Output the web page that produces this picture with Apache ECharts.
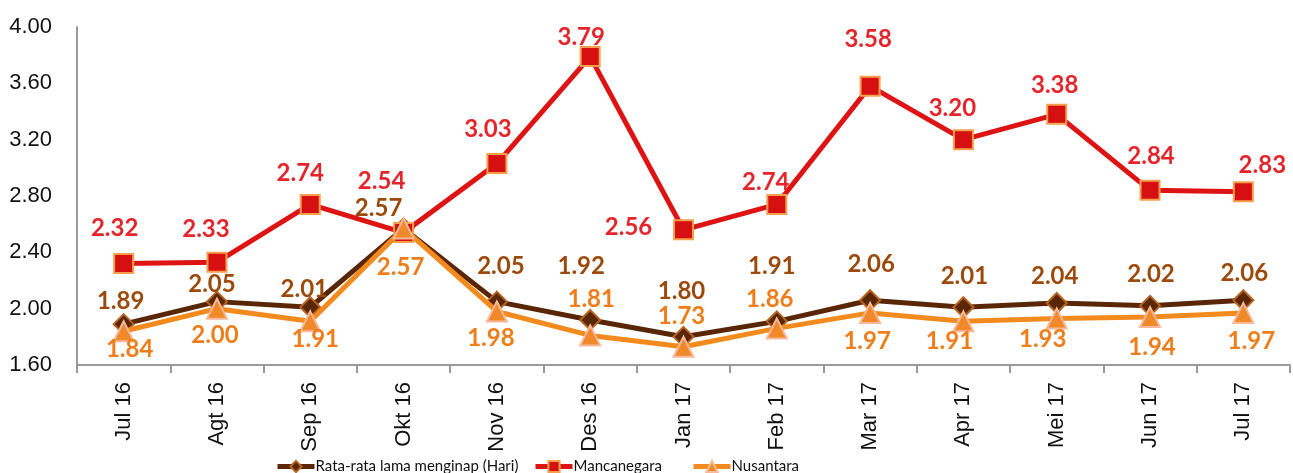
<!DOCTYPE html>
<html><head><meta charset="utf-8">
<script src="https://cdn.jsdelivr.net/npm/echarts@6/dist/echarts.min.js"></script>
<style>html,body{margin:0;padding:0;background:#fff}#c{width:1293px;height:473px}</style>
</head><body><div id="c"></div>
<script>
const categories = ['Jul 16','Agt 16','Sep 16','Okt 16','Nov 16','Des 16','Jan 17','Feb 17','Mar 17','Apr 17','Mei 17','Jun 17','Jul 17'];
const rataValues = [1.89,2.05,2.01,2.57,2.05,1.92,1.80,1.91,2.06,2.01,2.04,2.02,2.06];
const mancValues = [2.32,2.33,2.74,2.54,3.03,3.79,2.56,2.74,3.58,3.20,3.38,2.84,2.83];
const nusValues  = [1.84,2.00,1.91,2.57,1.98,1.81,1.73,1.86,1.97,1.91,1.93,1.94,1.97];
const seriesNames = ['Rata-rata lama menginap (Hari)','Mancanegara','Nusantara'];
const yTicks = {min:1.6, max:4.0, interval:0.4};

// label placement offsets (style only)
const rataOff = [[-3,-23],[-5,-17],[-6,-18],[-25,-20],[4,-35],[-9,-54],[-2,-46],[-5,-55],[1,-36],[1,-31],[-2,-27],[1,-32],[1,-27]];
const mancOff = [[-9,-35],[-11,-33],[-10,-31],[-22,-51],[-9,-34],[-9,-19],[-55,-3],[-11,-22],[-2,-47],[-11,-31],[-2,-29],[1,-34],[19,-27]];
const nusOff  = [[6,18],[-2,27],[5,18],[-3,39],[-6,27],[1,-36],[-2,-30],[-7,-29],[-3,28],[-14,20],[-14,21],[2,30],[8,28]];
const legendLefts = [270, 528, 686];

const labelFont = {fontFamily:'Lato', fontWeight:'bold', fontSize:24};
const axisFont = {fontFamily:'Liberation Sans', fontSize:22, color:'#111'};
function mk(vals, offs, color){
  return vals.map((v,i)=>({value:v, label:{show:true, position:'inside', offset:offs[i], color:color, ...labelFont, formatter:p=>p.value.toFixed(2)}}));
}

const chart = echarts.init(document.getElementById('c'), null, {renderer:'canvas'});
chart.setOption({
  animation:false,
  grid:{left:77, right:3, top:27, bottom:108, containLabel:false},
  legend: seriesNames.map((n,i)=>({
    left:legendLefts[i], top:454, itemWidth:37, itemHeight:14, itemGap:0,
    lineStyle:{width:5},
    textStyle:{fontFamily:'Lato', fontSize:15, color:'#111', padding:[0,0,0,-4]},
    data:[{name:n, lineStyle:{width:5}}]
  })),
  xAxis:{
    type:'category', data:categories, boundaryGap:true,
    axisLine:{lineStyle:{color:'#9a9a9a', width:2}},
    axisTick:{show:true, alignWithLabel:false, length:8, lineStyle:{color:'#9a9a9a', width:2}},
    axisLabel:{rotate:90, margin:17, ...axisFont, interval:0},
    splitLine:{show:false}
  },
  yAxis:{
    type:'value', min:yTicks.min, max:yTicks.max, interval:yTicks.interval,
    axisLine:{show:true, lineStyle:{color:'#9a9a9a', width:2}},
    axisTick:{show:false},
    axisLabel:{margin:25, ...axisFont, formatter:v=>v.toFixed(2)},
    splitLine:{show:false}
  },
  series:[
    {name:seriesNames[0], type:'line', data:mk(rataValues, rataOff, '#9C4A0C'),
     symbol:'diamond', symbolSize:20, z:2,
     lineStyle:{color:'#5A2706', width:5},
     itemStyle:{color:'#5A2706', borderColor:'#B5631F', borderWidth:2}},
    {name:seriesNames[1], type:'line', data:mk(mancValues, mancOff, '#E4262C'),
     symbol:'rect', symbolSize:19, z:3,
     lineStyle:{color:'#DE1414', width:5},
     itemStyle:{color:'#D61010', borderColor:'#F5A04E', borderWidth:2}},
    {name:seriesNames[2], type:'line', data:mk(nusValues, nusOff, '#EE7D1A'),
     symbol:'triangle', symbolSize:20, z:4,
     lineStyle:{color:'#F28A1E', width:5},
     itemStyle:{color:'#F0892A', borderColor:'#F8B89A', borderWidth:2}}
  ]
});
</script></body></html>
